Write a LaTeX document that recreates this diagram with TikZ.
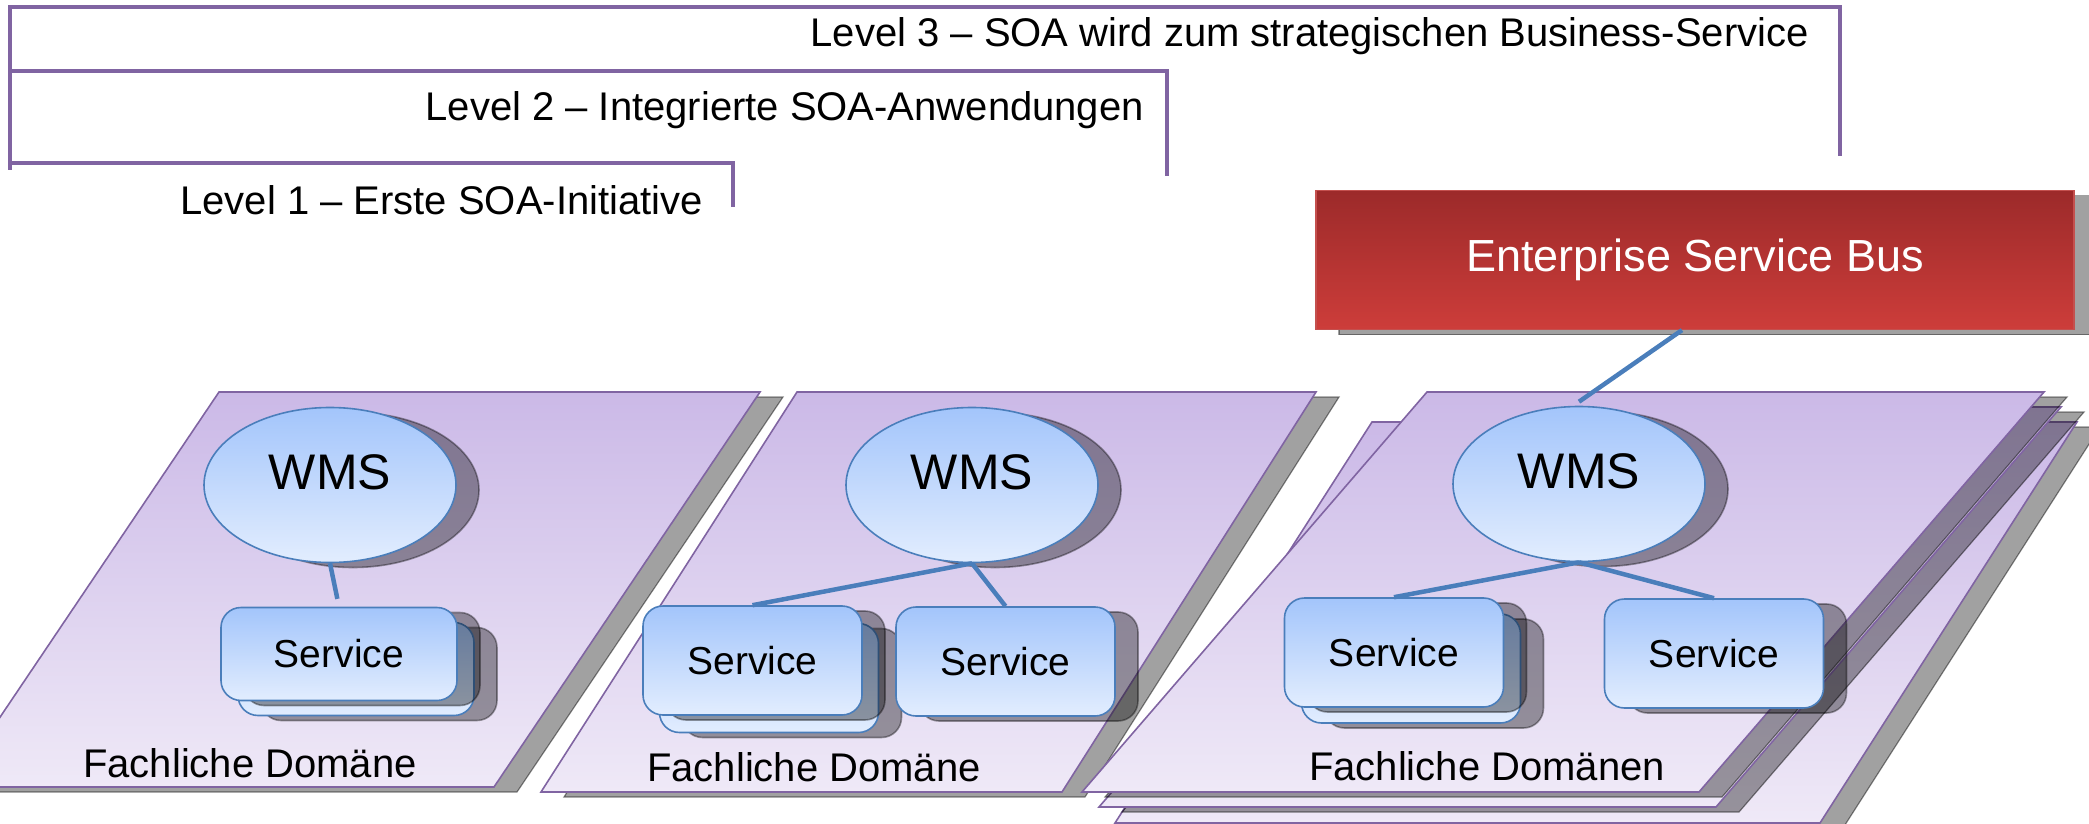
\documentclass[tikz,border=0pt]{standalone}
\usepackage{fontspec}
\setmainfont{Liberation Sans}
\usetikzlibrary{shapes.geometric,shadows,calc}

\definecolor{framepurple}{RGB}{128,100,162}
\definecolor{domtop}{RGB}{203,185,231}
\definecolor{dombot}{RGB}{239,233,247}
\definecolor{nodetop}{RGB}{163,197,251}
\definecolor{nodebot}{RGB}{226,237,254}
\definecolor{nodeline}{RGB}{74,126,187}
\definecolor{esbtop}{RGB}{156,42,42}
\definecolor{esbbot}{RGB}{205,61,58}
\definecolor{esbline}{RGB}{196,80,78}

\begin{document}
\begin{tikzpicture}[x=1pt,y=-1pt,
  bracket/.style={draw=framepurple, line width=3.5pt},
  lvl/.style={anchor=base east, font=\fontsize{40}{48}\selectfont, inner sep=0pt},
  plane/.style={draw=framepurple, line width=1.6pt, top color=domtop, bottom color=dombot},
  planeshadow/.style={fill=black, fill opacity=0.37, draw=black, draw opacity=0.45, line width=1.2pt},
  castshadow/.style={drop shadow={shadow xshift=23pt, shadow yshift=-5pt, fill=black, opacity=0.37, draw=black}},
  wms/.style={ellipse, draw=nodeline, line width=1.6pt, top color=nodetop, bottom color=nodebot,
    minimum width=252pt, minimum height=155pt, inner sep=0pt, text depth=26pt,
    font=\fontsize{50}{60}\selectfont, castshadow},
  svc/.style={rectangle, rounded corners=20pt, draw=nodeline, line width=1.6pt, top color=nodetop,
    bottom color=nodebot, minimum width=219pt, minimum height=109pt, inner sep=0pt,
    font=\fontsize{39}{47}\selectfont, castshadow},
  esbbox/.style={rectangle, draw=esbline, line width=1.2pt, top color=esbtop, bottom color=esbbot,
    minimum width=758pt, minimum height=139pt, inner sep=0pt, text=white,
    font=\fontsize{45}{54}\selectfont, castshadow},
  link/.style={draw=nodeline, line width=4.5pt},
  planelabel/.style={anchor=base, font=\fontsize{40}{48}\selectfont, inner sep=0pt}
]
\useasboundingbox (0,0) rectangle (2089,824);
\clip (0,0) rectangle (2089,824);

% maturity levels
\draw[bracket] (10,170) -- (10,7) -- (1840,7) -- (1840,156);
\draw[bracket] (10,71) -- (1167,71) -- (1167,176);
\draw[bracket] (10,163) -- (733,163) -- (733,207);
\node[lvl] (l3) at (1809,47) {Level 3 – SOA wird zum strategischen Business-Service};
\node[lvl] (l2) at (1144,121) {Level 2 – Integrierte SOA-Anwendungen};
\node[lvl] (l1) at (703,214) {Level 1 – Erste SOA-Initiative};

% enterprise service bus
\node[esbbox] (esb) at (1695,260) {Enterprise Service Bus};

% domain planes
\begin{scope}[shift={(23,5)}]
  \path[planeshadow] (219,392) -- (760,392) -- (494,787) -- (-47,787) -- cycle;
\end{scope}
\path[plane] (219,392) -- (760,392) -- (494,787) -- (-47,787) -- cycle;

\begin{scope}[shift={(23,5)}]
  \path[planeshadow] (797,392) -- (1316,392) -- (1062,792) -- (541,792) -- cycle;
\end{scope}
\path[plane] (797,392) -- (1316,392) -- (1062,792) -- (541,792) -- cycle;

\begin{scope}[shift={(23,5)}]
  \path[planeshadow] (1372,422) -- (2077,422) -- (1820,823) -- (1115,823) -- cycle;
\end{scope}
\path[plane] (1372,422) -- (2077,422) -- (1820,823) -- (1115,823) -- cycle;
\begin{scope}[shift={(23,5)}]
  \path[planeshadow] (1444,407) -- (2061,407) -- (1716,807) -- (1099,807) -- cycle;
\end{scope}
\path[plane] (1444,407) -- (2061,407) -- (1716,807) -- (1099,807) -- cycle;
\begin{scope}[shift={(23,5)}]
  \path[planeshadow] (1427,392) -- (2044,392) -- (1699,792) -- (1082,792) -- cycle;
\end{scope}
\path[plane] (1427,392) -- (2044,392) -- (1699,792) -- (1082,792) -- cycle;

\node[planelabel] (d1) at (250,777) {Fachliche Domäne};
\node[planelabel] (d2) at (814,781) {Fachliche Domäne};
\node[planelabel] (d3) at (1487,780) {Fachliche Domänen};

% domain 1
\node[wms] (wms1) at (330,485) {WMS};
\node[svc, minimum width=236pt, minimum height=93pt] (s1b) at (356,669) {};
\node[svc, minimum width=236pt, minimum height=93pt] (s1) at (339,654) {Service};

% domain 2
\node[wms] (wms2) at (972,485) {WMS};
\node[svc] (s2b) at (769,678) {};
\node[svc] (s2) at (752.5,660.5) {Service};
\node[svc] (s2r) at (1005.5,661.5) {Service};

% domain 3
\node[wms] (wms3) at (1579,484) {WMS};
\node[svc] (s3b) at (1411,668.5) {};
\node[svc] (s3) at (1394,652.5) {Service};
\node[svc] (s3r) at (1714,653.5) {Service};

% connections
\draw[link, shorten >=8pt] (wms1.south) -- (s1.north);
\draw[link] (wms2.south) -- (s2.north);
\draw[link] (wms2.south) -- (s2r.north);
\draw[link] (wms3.south) -- (s3.north);
\draw[link] (wms3.south) -- (s3r.north);
\draw[link] ([xshift=-13pt]esb.south) -- ([yshift=4pt]wms3.north);
\end{tikzpicture}
\end{document}
